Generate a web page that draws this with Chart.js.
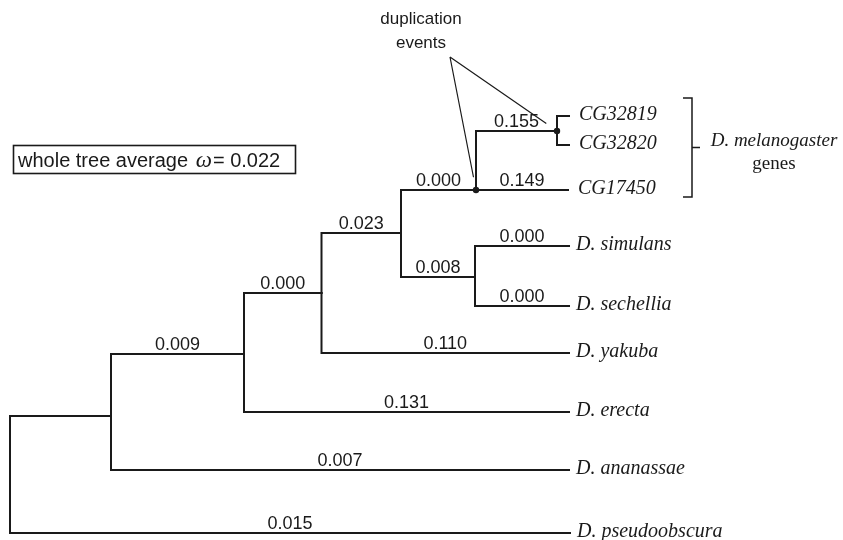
<!DOCTYPE html>
<html>
<head>
<meta charset="utf-8">
<script src="https://cdn.jsdelivr.net/npm/chart.js@4.4.1/dist/chart.umd.min.js"></script>
<style>
  html, body { margin: 0; padding: 0; background: #fff; }
  #wrap { width: 843px; height: 540px; }
</style>
</head>
<body>
<div id="wrap"><canvas id="tree" width="843" height="540"></canvas></div>
<script>
// tree nodes: x = position along the tree, y = row, parent index (-1 = root)
const nodeIds = ['A', 'B', 'C', 'D', 'E', 'F', 'G', 'H',
  'CG32819', 'CG32820', 'CG17450', 'D. simulans', 'D. sechellia',
  'D. yakuba', 'D. erecta', 'D. ananassae', 'D. pseudoobscura'];
const nodeX = [10, 111, 244, 321.5, 401, 475, 476, 557,
  569, 569, 568, 569, 569, 569, 569, 569, 570];
const nodeY = [416, 416, 354, 293, 233, 277, 190, 131,
  116, 145, 190, 246, 306, 353, 412, 470, 533];
const nodeParent = [-1, 0, 1, 2, 3, 4, 4, 6,
  7, 7, 6, 5, 5, 3, 2, 1, 0];
// omega on the branch leading to each node
const branchOmega = [null, null, '0.009', '0.000', '0.023', '0.008', '0.000', '0.155',
  null, null, '0.149', '0.000', '0.000', '0.110', '0.131', '0.007', '0.015'];
const melanogasterGenes = ['CG32819', 'CG32820', 'CG17450'];
const duplicationNodes = ['G', 'H'];
const wholeTreeOmega = '0.022';

const INK = '#1a1a1a';
const SANS = '"Liberation Sans", Arial, Helvetica, sans-serif';
const SERIF = '"Liberation Serif", "Times New Roman", serif';

const isLeaf = nodeIds.map((id, i) => !nodeParent.includes(i));

// one elbow line per branch
const branchSets = [];
nodeIds.forEach((id, i) => {
  const p = nodeParent[i];
  if (p < 0) return;
  branchSets.push({
    type: 'line',
    data: [
      { x: nodeX[p], y: nodeY[p] },
      { x: nodeX[p], y: nodeY[i] },
      { x: nodeX[i], y: nodeY[i] },
    ],
    borderColor: INK,
    borderWidth: 2,
    borderJoinStyle: 'miter',
    borderCapStyle: 'square',
    pointRadius: 0,
    tension: 0,
    fill: false,
  });
});

const dupIdx = duplicationNodes.map((id) => nodeIds.indexOf(id));
branchSets.push({
  type: 'scatter',
  data: dupIdx.map((i) => ({ x: nodeX[i], y: nodeY[i] })),
  pointRadius: 3.2,
  pointBackgroundColor: INK,
  pointBorderWidth: 0,
});

const treeText = {
  id: 'treeText',
  afterDatasetsDraw(chart) {
    const { ctx, scales } = chart;
    const px = (v) => scales.x.getPixelForValue(v);
    const py = (v) => scales.y.getPixelForValue(v);
    ctx.save();
    ctx.fillStyle = INK;
    ctx.strokeStyle = INK;

    // branch omega values
    ctx.font = '18px ' + SANS;
    ctx.textAlign = 'center';
    ctx.textBaseline = 'alphabetic';
    nodeIds.forEach((id, i) => {
      const p = nodeParent[i];
      if (p < 0 || !branchOmega[i]) return;
      const mid = (px(nodeX[p]) + px(nodeX[i])) / 2;
      ctx.fillText(branchOmega[i], mid, py(nodeY[i]) - 4);
    });

    // leaf names
    ctx.font = 'italic 20px ' + SERIF;
    ctx.textAlign = 'left';
    nodeIds.forEach((id, i) => {
      if (!isLeaf[i]) return;
      const off = melanogasterGenes.includes(id) ? 10 : 7;
      ctx.fillText(id, px(nodeX[i]) + off, py(nodeY[i]) + 4);
    });

    // bracket around melanogaster genes
    const gy = melanogasterGenes.map((g) => py(nodeY[nodeIds.indexOf(g)]));
    const top = Math.min(...gy) - 18, bot = Math.max(...gy) + 7, bx = 692;
    const midY = (top + bot) / 2;
    ctx.lineWidth = 1.5;
    ctx.beginPath();
    ctx.moveTo(bx - 9, top); ctx.lineTo(bx, top); ctx.lineTo(bx, bot); ctx.lineTo(bx - 9, bot);
    ctx.moveTo(bx, midY); ctx.lineTo(bx + 8, midY);
    ctx.stroke();
    ctx.textAlign = 'center';
    ctx.font = 'italic 19px ' + SERIF;
    ctx.fillText('D. melanogaster', 774, midY - 2);
    ctx.font = '19px ' + SERIF;
    ctx.fillText('genes', 774, midY + 21);

    // duplication events callout
    ctx.font = '17px ' + SANS;
    ctx.fillText('duplication', 421, 24);
    ctx.fillText('events', 421, 48);
    const ax = 450, ay = 57;
    ctx.lineWidth = 1.2;
    ctx.beginPath();
    dupIdx.forEach((i) => {
      const nx = px(nodeX[i]), ny = py(nodeY[i]);
      const dx = ax - nx, dy = ay - ny, len = Math.hypot(dx, dy);
      ctx.moveTo(ax, ay);
      ctx.lineTo(nx + dx / len * 13, ny + dy / len * 13);
    });
    ctx.stroke();

    // whole tree average box
    ctx.lineWidth = 1.6;
    ctx.strokeRect(13.5, 145.5, 282, 28);
    ctx.textAlign = 'left';
    let tx = 18;
    const base = 167;
    ctx.font = '20px ' + SANS;
    const part1 = 'whole tree average ';
    ctx.fillText(part1, tx, base);
    tx += ctx.measureText(part1).width + 2;
    ctx.font = 'italic 23px ' + SERIF;
    ctx.fillText('\u03c9', tx, base);
    tx += ctx.measureText('\u03c9').width + 1;
    ctx.font = '20px ' + SANS;
    ctx.fillText('= ' + wholeTreeOmega, tx, base);

    ctx.restore();
  },
};

new Chart(document.getElementById('tree'), {
  type: 'scatter',
  data: { datasets: branchSets },
  options: {
    responsive: false,
    animation: false,
    layout: { padding: 0, autoPadding: false },
    plugins: { legend: { display: false }, tooltip: { enabled: false } },
    scales: {
      x: { type: 'linear', display: false, min: 0, max: 843 },
      y: { type: 'linear', display: false, min: 0, max: 540, reverse: true },
    },
  },
  plugins: [treeText],
});
</script>
</body>
</html>
